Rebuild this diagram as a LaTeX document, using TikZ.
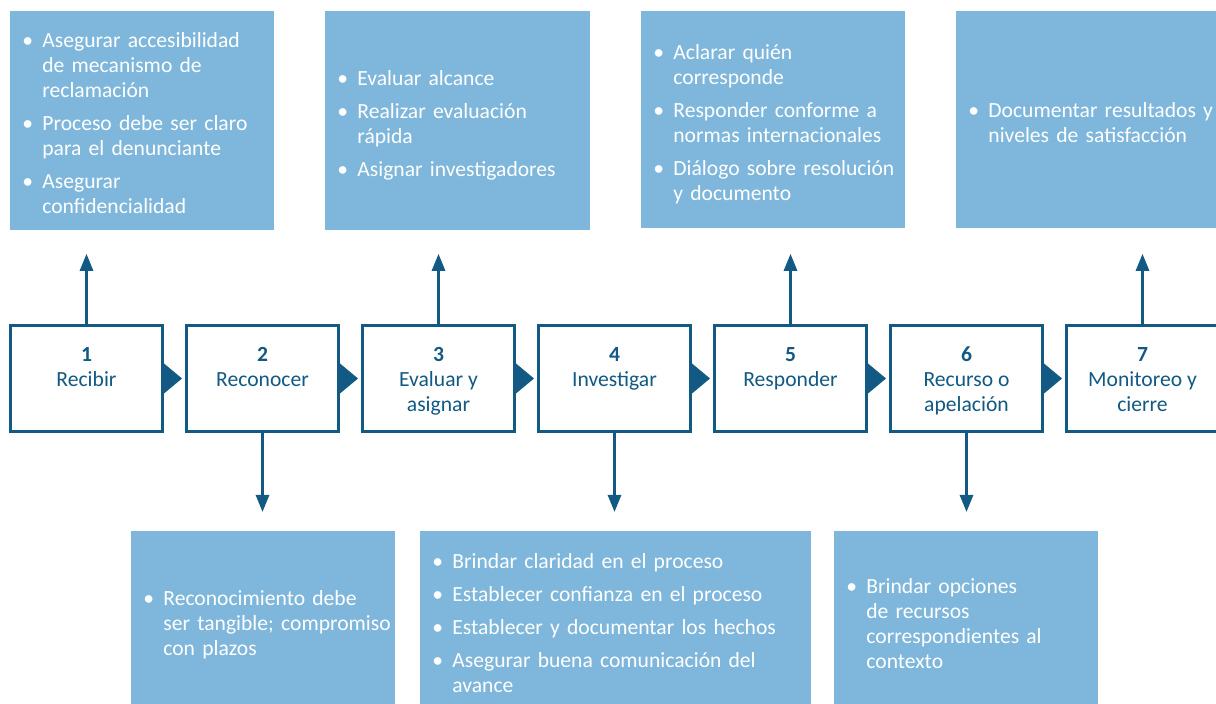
\documentclass[tikz,border=0pt]{standalone}
\usepackage{fontspec}
\setmainfont{Carlito}
\usetikzlibrary{arrows.meta}

\definecolor{stepblue}{RGB}{18,89,132}
\definecolor{boxblue}{RGB}{126,183,219}

\newcommand{\blist}[1]{\begin{tabular}[t]{@{}p{10pt}@{}l@{}}\rule{0pt}{13.75pt}#1\end{tabular}}
\newcommand{\toprule}{\rule{0pt}{11.75pt}}

\tikzset{
  stepbox/.style={draw=stepblue, line width=1.5pt, fill=white, text=stepblue,
    minimum width=76pt, minimum height=53pt, align=center,
    font=\fontsize{10.8}{12.5}\selectfont},
  infobox/.style={fill=boxblue, text=white, anchor=north west, inner xsep=6pt,
    inner ysep=0pt, align=left, font=\fontsize{10.8}{12.5}\selectfont},
  arr/.style={draw=stepblue, line width=1.4pt, -{Triangle[width=6.5pt,length=8.5pt]}},
}

\begin{document}
\begin{tikzpicture}[x=0.5pt,y=-0.5pt]
  \clip (0,0) rectangle (1216,704);

  %% top boxes
  \node[infobox, text width=120pt, minimum height=109.5pt] (tA) at (10,11)
    {\blist{\textbullet & Asegurar accesibilidad\\ & de mecanismo de\\ & reclamación\\[4pt]
     \textbullet & Proceso debe ser claro\\ & para el denunciante\\[4pt]
     \textbullet & Asegurar\\ & confidencialidad}};
  \node[infobox, text width=120.5pt, minimum height=109.5pt] (tB) at (325,11)
    {\blist{\textbullet & Evaluar alcance\\[4pt]
     \textbullet & Realizar evaluación\\ & rápida\\[4pt]
     \textbullet & Asignar investigadores}};
  \node[infobox, text width=120pt, minimum height=108.5pt] (tC) at (641,11)
    {\blist{\textbullet & Aclarar quién\\ & corresponde\\[4pt]
     \textbullet & Responder conforme a\\ & normas internacionales\\[4pt]
     \textbullet & Diálogo sobre resolución\\ & y documento}};
  \node[infobox, text width=120pt, minimum height=108.5pt] (tD) at (956,11)
    {\blist{\textbullet & Documentar resultados y\\ & niveles de satisfacción}};

  %% bottom boxes
  \node[infobox, text width=120pt, minimum height=89.5pt] (bE) at (131,531)
    {\blist{\textbullet & Reconocimiento debe\\ & ser tangible; compromiso\\ & con plazos}};
  \node[infobox, text width=183.5pt, minimum height=89.5pt] (bF) at (420,531)
    {\blist{\textbullet & Brindar claridad en el proceso\\[4pt]
     \textbullet & Establecer confianza en el proceso\\[4pt]
     \textbullet & Establecer y documentar los hechos\\[4pt]
     \textbullet & Asegurar buena comunicación del\\ & avance}};
  \node[infobox, text width=120pt, minimum height=89.5pt] (bG) at (834,531)
    {\blist{\textbullet & Brindar opciones\\ & de recursos\\ & correspondientes al\\ & contexto}};

  %% steps
  \node[stepbox] (s1) at (86.5,378.5)  {\textbf{1}\toprule\\Recibir\\\strut};
  \node[stepbox] (s2) at (262.5,378.5) {\textbf{2}\toprule\\Reconocer\\\strut};
  \node[stepbox] (s3) at (438.5,378.5) {\textbf{3}\toprule\\Evaluar y\\asignar\strut};
  \node[stepbox] (s4) at (614.5,378.5) {\textbf{4}\toprule\\Investigar\\\strut};
  \node[stepbox] (s5) at (790.5,378.5) {\textbf{5}\toprule\\Responder\\\strut};
  \node[stepbox] (s6) at (966.5,378.5) {\textbf{6}\toprule\\Recurso o\\apelación\strut};
  \node[stepbox] (s7) at (1142.5,378.5) {\textbf{7}\toprule\\Monitoreo y\\cierre\strut};

  %% pointers between steps
  \fill[stepblue] ([yshift=7.5pt]s1.east) -- ++(18,15) -- ++(-18,15) -- cycle;
  \fill[stepblue] ([yshift=7.5pt]s2.east) -- ++(18,15) -- ++(-18,15) -- cycle;
  \fill[stepblue] ([yshift=7.5pt]s3.east) -- ++(18,15) -- ++(-18,15) -- cycle;
  \fill[stepblue] ([yshift=7.5pt]s4.east) -- ++(18,15) -- ++(-18,15) -- cycle;
  \fill[stepblue] ([yshift=7.5pt]s5.east) -- ++(18,15) -- ++(-18,15) -- cycle;
  \fill[stepblue] ([yshift=7.5pt]s6.east) -- ++(18,15) -- ++(-18,15) -- cycle;

  %% arrows up
  \draw[arr, shorten >=11.5pt] (s1.north) -- (s1.north |- tA.south);
  \draw[arr, shorten >=11.5pt] (s3.north) -- (s3.north |- tB.south);
  \draw[arr, shorten >=12.5pt] (s5.north) -- (s5.north |- tC.south);
  \draw[arr, shorten >=12.5pt] (s7.north) -- (s7.north |- tD.south);

  %% arrows down
  \draw[arr, shorten >=9.5pt] (s2.south) -- (s2.south |- bE.north);
  \draw[arr, shorten >=9.5pt] (s4.south) -- (s4.south |- bF.north);
  \draw[arr, shorten >=9.5pt] (s6.south) -- (s6.south |- bG.north);

\end{tikzpicture}
\end{document}
